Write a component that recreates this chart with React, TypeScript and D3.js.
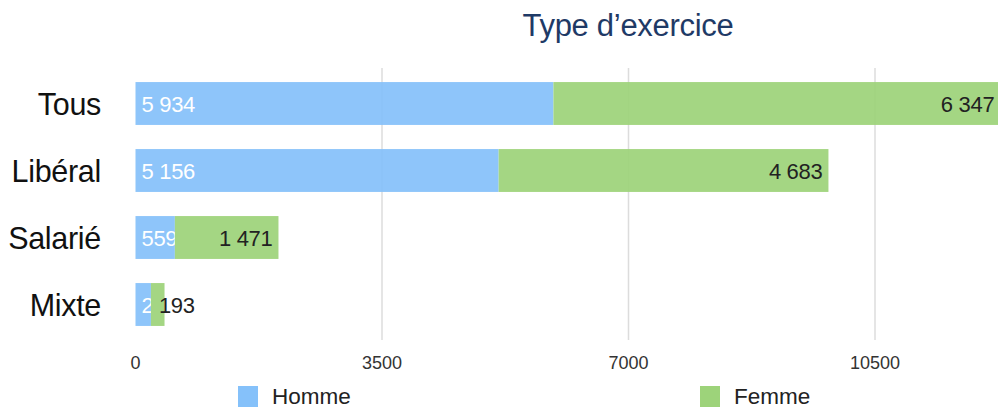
import React from "react";
import * as d3 from "d3";

const categories = ["Tous", "Libéral", "Salarié", "Mixte"];
const homme = [5934, 5156, 559, 219];
const femme = [6347, 4683, 1471, 193];
const ticks = [0, 3500, 7000, 10500];
const seriesNames = ["Homme", "Femme"];
const title = "Type d’exercice";

const W = 998;
const H = 411;
const FONT = "'Liberation Sans', Arial, sans-serif";
const BLUE = "#85c1fa";
const GREEN = "#9dd37a";

const fmt = (v: number) => d3.format(",")(v).replace(/,/g, " ");

export default function App() {
  const x = d3.scaleLinear().domain([0, 10500]).range([135.5, 875]);
  const y = d3.scaleBand().domain(categories).range([70, 338]).paddingInner(0.36).paddingOuter(0.18);
  const bh = y.bandwidth();

  return (
    <svg width={W} height={H} style={{ position: "fixed", left: 0, top: 0, background: "#fff" }} fontFamily={FONT}>
      <text x={628} y={36} textAnchor="middle" fontSize={31} fill="#1f3a66" letterSpacing={-0.3}>{title}</text>
      {ticks.slice(1).map((t) => (
        <line key={t} x1={x(t)} x2={x(t)} y1={68} y2={340} stroke="#dcdcdc" strokeWidth={1.5} />
      ))}
      {ticks.map((t) => (
        <text key={"t" + t} x={x(t)} y={369} textAnchor="middle" fontSize={18} fill="#333">{t}</text>
      ))}
      {categories.map((c, i) => {
        const y0 = y(c)!;
        const xh0 = x(0), xh1 = x(homme[i]);
        const xf1 = x(homme[i] + femme[i]);
        const cy = y0 + bh / 2;
        const fl = fmt(femme[i]);
        const fits = xf1 - xh1 > 60;
        const fx = fits ? xf1 - 6 : xh1 + 8;
        return (
          <g key={c}>
            <text x={101} y={cy + 11} textAnchor="end" fontSize={30.5} fill="#111" letterSpacing={-0.3}>{c}</text>
            <rect x={xh0} y={y0} width={xh1 - xh0} height={bh} fill={BLUE} opacity={0.93} />
            <text x={xh0 + 6} y={cy + 8} fontSize={22} fill="#fff" letterSpacing={-0.3}>{fmt(homme[i])}</text>
            <rect x={xh1} y={y0} width={xf1 - xh1} height={bh} fill={GREEN} opacity={0.93} />
            <text x={fx} y={cy + 8} textAnchor={fits ? "end" : "start"} fontSize={22} fill="#222" letterSpacing={-0.3}>{fl}</text>
          </g>
        );
      })}
      {seriesNames.map((s, i) => {
        const lx = i === 0 ? 238 : 700;
        return (
          <g key={s}>
            <rect x={lx} y={386} width={20} height={21} fill={i === 0 ? BLUE : GREEN} />
            <text x={lx + 34} y={404} fontSize={22.5} fill="#222">{s}</text>
          </g>
        );
      })}
    </svg>
  );
}
